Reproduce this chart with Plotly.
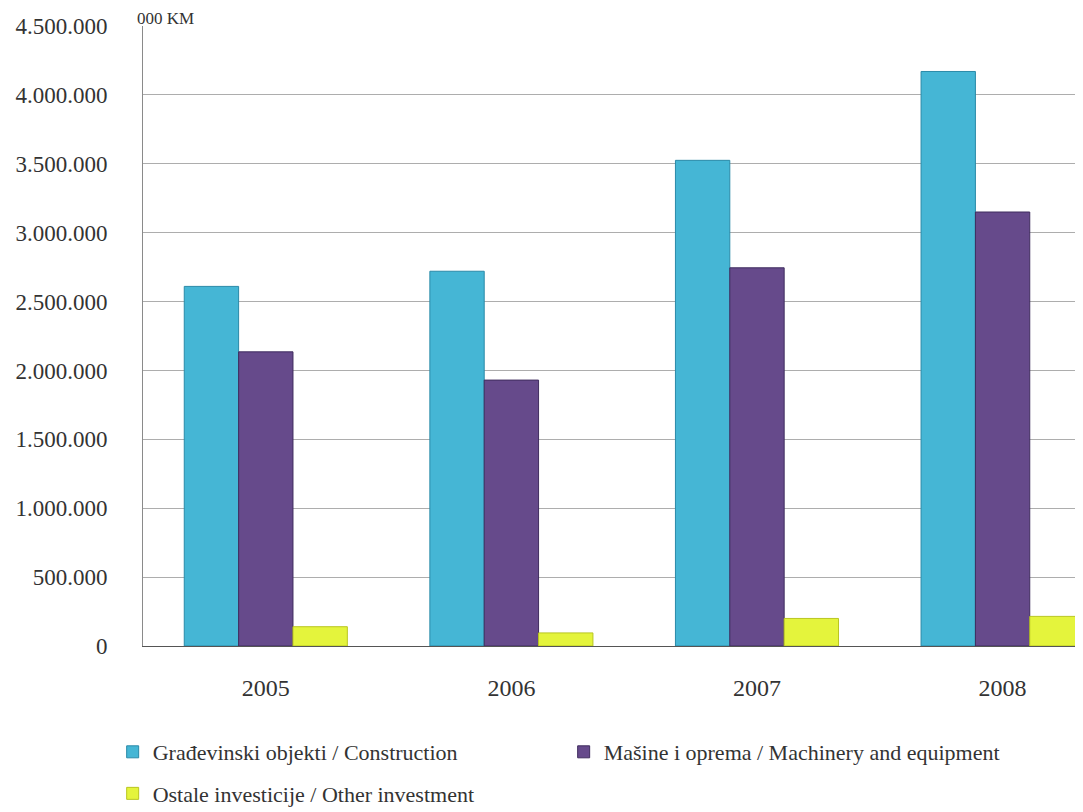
import plotly.graph_objects as go

years = ["2005", "2006", "2007", "2008"]
construction = [2610000, 2720000, 3525000, 4170000]
machinery = [2135000, 1930000, 2745000, 3150000]
other = [140000, 95000, 200000, 215000]

names = [
    "Građevinski objekti / Construction",
    "Mašine i oprema / Machinery and equipment",
    "Ostale investicije / Other investment",
]
colors = ["#45B6D5", "#664A8B", "#E4F43C"]
edges = ["#2A8AA8", "#3F2C5E", "#B9C620"]
y_ticks = [0, 500000, 1000000, 1500000, 2000000, 2500000, 3000000, 3500000, 4000000, 4500000]

FONT = "Liberation Serif, Times New Roman, serif"

fig = go.Figure()
series = [construction, machinery, other]
for i, (nm, vals) in enumerate(zip(names, series)):
    fig.add_trace(go.Bar(
        x=years, y=vals, name=nm,
        marker=dict(color=colors[i], line=dict(color=edges[i], width=1)),
        legend="legend" if i < 2 else "legend2",
    ))

fig.update_layout(
    width=1083, height=812,
    margin=dict(l=135, r=0, t=18, b=174, autoexpand=False),
    paper_bgcolor="white", plot_bgcolor="white",
    barmode="group", bargap=0.336, bargroupgap=0,
    separators=",.",
    font=dict(family=FONT, size=22, color="#333333"),
    showlegend=True,
    legend=dict(
        orientation="h", x=-0.032, y=-0.171, xanchor="left", yanchor="middle",
        entrywidth=406, entrywidthmode="pixels",
        font=dict(family=FONT, size=22, color="#333333"),
        itemwidth=30, traceorder="normal", bgcolor="rgba(0,0,0,0)",
    ),
    legend2=dict(
        orientation="h", x=-0.032, y=-0.238, xanchor="left", yanchor="middle",
        font=dict(family=FONT, size=22, color="#333333"),
        itemwidth=30, bgcolor="rgba(0,0,0,0)",
    ),
    annotations=[dict(
        text="000 KM", xref="paper", yref="paper",
        x=-0.0074, y=1.029, xanchor="left", yanchor="top",
        showarrow=False, borderpad=0,
        font=dict(family=FONT, size=17, color="#333333"),
    )],
)

fig.update_xaxes(
    type="category", range=[-0.5, 3.36], automargin=False,
    showline=True, linecolor="#555555", linewidth=1,
    showgrid=False, ticks="", tickfont=dict(family=FONT, size=24, color="#333333"),
    ticklabelstandoff=20,
)
fig.update_yaxes(
    range=[0, 4500000], tickvals=y_ticks, tickformat=",d", automargin=False,
    showgrid=True, gridcolor="#adadad", gridwidth=1,
    showline=True, linecolor="#8a8a8a", linewidth=1,
    ticks="", zeroline=False,
    tickfont=dict(family=FONT, size=23, color="#333333"),
    ticklabelstandoff=30,
)

fig.write_html("out.html")
